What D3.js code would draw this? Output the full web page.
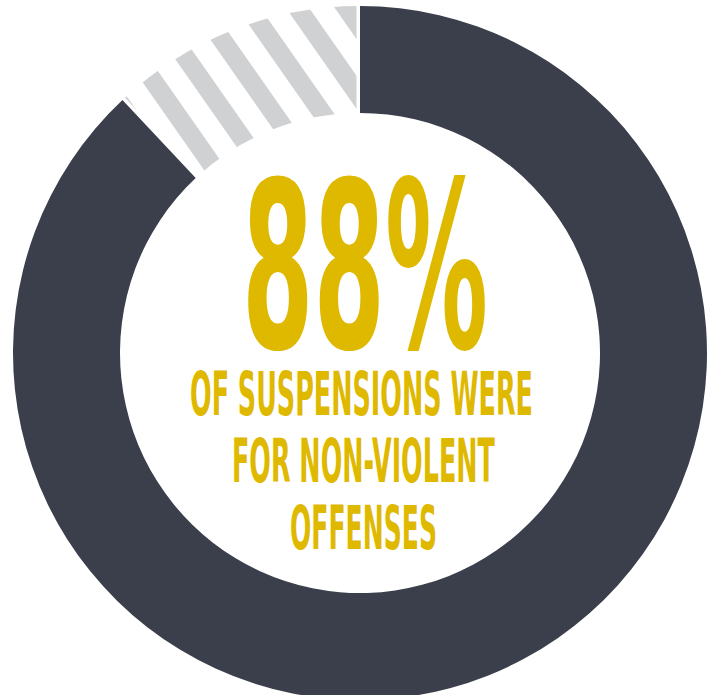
<!DOCTYPE html>
<html>
<head>
<meta charset="utf-8">
<script src="https://cdn.jsdelivr.net/npm/d3@7"></script>
<style>
  html, body { margin: 0; padding: 0; background: #fff; }
  #chart { width: 718px; height: 695px; }
</style>
</head>
<body>
<div id="chart"></div>
<script>
// données
const sliceNames = ["Non-violent", "Other"];
const shares = [88, 12];
const headline = "88%";
const captionLines = ["OF SUSPENSIONS WERE", "FOR NON-VIOLENT", "OFFENSES"];

const width = 718;
const height = 695;
const center = { x: 360, y: 353 };
const radius = { inner: 240, outer: 347 };

const dark = "#3a3f4b";
const hatchGray = "#d0d1d3";
const gold = "#dfb800";
const fontStack = "'Liberation Sans Narrow', 'DejaVu Sans Condensed', 'Liberation Sans', sans-serif";

const svg = d3.select("#chart")
    .append("svg")
    .attr("width", width)
    .attr("height", height);

// motif rayé pour la part restante
const pattern = svg.append("defs")
    .append("pattern")
    .attr("id", "stripes")
    .attr("patternUnits", "userSpaceOnUse")
    .attr("width", 40)
    .attr("height", 40)
    .attr("patternTransform", "translate(21,0) rotate(-35)");

pattern.append("rect")
    .attr("x", 0)
    .attr("y", 0)
    .attr("width", 19)
    .attr("height", 40)
    .attr("fill", hatchGray);

const g = svg.append("g")
    .attr("transform", "translate(" + center.x + "," + center.y + ")");

const pie = d3.pie()
    .sort(null)
    .value(d => d)

const slices = pie(shares).map((s, i) => Object.assign(s, { name: sliceNames[i] }));

const arcMain = d3.arc()
    .innerRadius(radius.inner)
    .outerRadius(radius.outer);

const arcHatch = d3.arc()
    .innerRadius(radius.inner)
    .outerRadius(radius.outer)
    .padRadius(350)
    .padAngle(0.02);

g.selectAll(".slice")
    .data(slices)
    .enter().append("path")
    .attr("class", "slice")
    .attr("d", (d, i) => i === 0 ? arcMain(d) : arcHatch(d))
    .attr("fill", (d, i) => i === 0 ? dark : "url(#stripes)");

// texte central, resserré horizontalement à la largeur voulue
function condensed(txt, x, y, w, size) {
    const t = svg.append("text")
        .attr("x", 0)
        .attr("y", 0)
        .attr("font-family", fontStack)
        .attr("font-weight", "bold")
        .attr("font-size", size)
        .attr("fill", gold)
        .text(txt);
    const natural = t.node().getComputedTextLength();
    t.attr("transform", "translate(" + x + "," + y + ") scale(" + (w / natural) + ",1)");
    return t;
}

condensed(headline, 242, 348, 246, 232);

const captionLayout = [
    { x: 190, y: 415, w: 343 },
    { x: 232, y: 482, w: 263 },
    { x: 290, y: 549, w: 147 }
];

captionLines.forEach((line, i) => {
    const c = captionLayout[i];
    condensed(line, c.x, c.y, c.w, 60).attr("class", "caption");
});
</script>
</body>
</html>
